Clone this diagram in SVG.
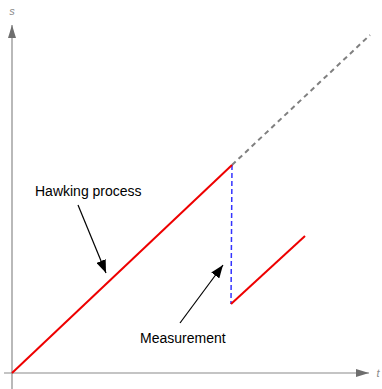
<svg xmlns="http://www.w3.org/2000/svg" width="382" height="389" viewBox="0 0 382 389">
<style>
.axis{stroke:#8a8a8a;stroke-width:1.2;fill:none}
.axlbl{font-family:"Liberation Sans",Arial,sans-serif;font-size:11px;font-style:italic;fill:#8a8a8a}
.lbl{font-family:"Liberation Sans",Arial,sans-serif;font-size:14px;fill:#000}
.red{stroke:#ee0000;stroke-width:2;fill:none}
.arr{stroke:#000;stroke-width:1.2;fill:none}
</style>
<defs>
<marker id="axh" markerWidth="14" markerHeight="8" refX="13" refY="4" orient="auto" markerUnits="userSpaceOnUse"><path d="M0,0 L13,4 L0,8 Z" fill="#6e6e6e"/></marker>
<marker id="ah" markerWidth="14" markerHeight="10" refX="13" refY="5" orient="auto" markerUnits="userSpaceOnUse"><path d="M0,0 L13,5 L0,10 Z" fill="#000"/></marker>
</defs>
<rect width="382" height="389" fill="#fff"/>
<g id="axes">
<line class="axis" x1="12" y1="389" x2="12" y2="25" marker-end="url(#axh)"/>
<line class="axis" x1="4" y1="373" x2="369" y2="373" marker-end="url(#axh)"/>
<text class="axlbl" x="12" y="15" text-anchor="middle">s</text>
<text class="axlbl" x="378" y="377" text-anchor="middle">t</text>
</g>
<g id="connectors">
<line x1="232" y1="165" x2="370" y2="35" stroke="#808080" stroke-width="2" stroke-dasharray="5,4"/>
<line x1="232" y1="165" x2="231" y2="304" stroke="#3333ff" stroke-width="1.5" stroke-dasharray="5,3"/>
<line class="arr" x1="78" y1="205" x2="106" y2="273" marker-end="url(#ah)"/>
<line class="arr" x1="180" y1="323" x2="223" y2="265" marker-end="url(#ah)"/>
</g>
<g id="hawking">
<line class="red" x1="12" y1="373" x2="232" y2="165"/>
<text class="lbl" x="35" y="196">Hawking process</text>
</g>
<g id="measurement">
<line class="red" x1="231" y1="304" x2="305" y2="236"/>
<text class="lbl" x="140" y="343">Measurement</text>
</g>
</svg>
